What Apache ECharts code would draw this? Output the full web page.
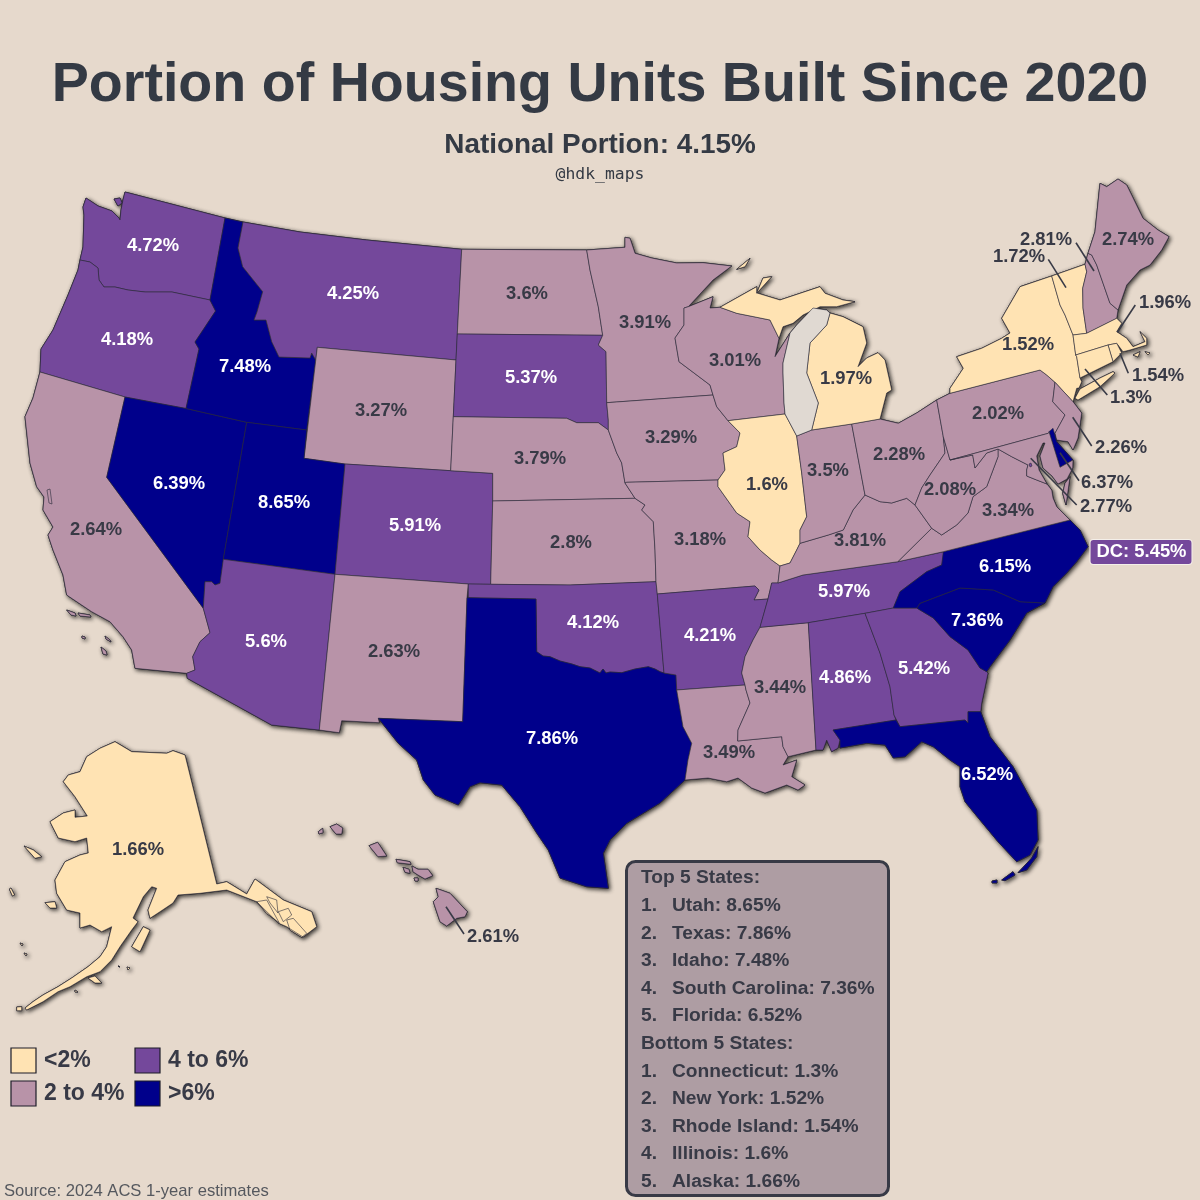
<!DOCTYPE html>
<html>
<head>
<meta charset="utf-8">
<title>Portion of Housing Units Built Since 2020</title>
<script src="https://cdn.jsdelivr.net/npm/echarts@6/dist/echarts.min.js"></script>
<style>
  html, body { margin: 0; padding: 0; background: #e6d9cc; }
  #chart { width: 1200px; height: 1200px; }
</style>
</head>
<body>
<div id="chart"></div>
<script>
// values
var stateNames = ['Washington','Oregon','California','Nevada','Idaho','Montana','Wyoming','Utah','Arizona','Colorado','New Mexico',
  'North Dakota','South Dakota','Nebraska','Kansas','Oklahoma','Texas','Minnesota','Iowa','Missouri','Arkansas','Louisiana',
  'Wisconsin','Illinois','Mississippi','Tennessee','Kentucky','Indiana','Ohio','Michigan','Alabama','Georgia','Florida',
  'South Carolina','North Carolina','Virginia','West Virginia','Pennsylvania','New York','Vermont','New Hampshire','Maine',
  'Massachusetts','Rhode Island','Connecticut','New Jersey','Delaware','Maryland','Alaska','Hawaii','District of Columbia'];
var stateValues = [4.72,4.18,2.64,6.39,7.48,4.25,3.27,8.65,5.6,5.91,2.63,
  3.6,5.37,3.79,2.8,4.12,7.86,3.91,3.29,3.18,4.21,3.49,
  3.01,1.6,3.44,5.97,3.81,3.5,2.28,1.97,4.86,5.42,6.52,
  7.36,6.15,3.34,2.08,2.02,1.52,1.72,2.81,2.74,
  1.96,1.54,1.3,2.26,6.37,2.77,1.66,2.61,5.45];

var topStates = ['Utah: 8.65%','Texas: 7.86%','Idaho: 7.48%','South Carolina: 7.36%','Florida: 6.52%'];
var bottomStates = ['Connecticut: 1.3%','New York: 1.52%','Rhode Island: 1.54%','Illinois: 1.6%','Alaska: 1.66%'];
var legendLabels = ['<2%','2 to 4%','4 to 6%','>6%'];
var classColors = ['#ffe3b3','#b893a8','#74489b','#00008b'];

// outlines, in picture pixels: flat x,y lists, one list per ring
var stateShapes = {
  'Washington': [[125,192,225,218,210,300,172,292,145,292,128,290,115,287,104,287,99,280,98,268,90,262,80,260,83,247,84,215,83,207,86,198,98,206,112,211,119,218,120,220,121,210,123,200],
    [114,199,120,198,122,203,118,206]],
  'Oregon': [[80,260,90,262,98,268,99,280,104,287,115,287,128,290,145,292,172,292,210,300,215.6,311,205,327,195,342,199,349,186,408.5,125,397,40,372,41,349,53,330,68,295,78,270]],
  'California': [[40,372,125,397,106.7,477.3,203.3,608.3,210,632.7,200,641.7,192.7,656.7,195,670,186.7,673.3,135,668.3,131.7,650,123,636.7,110,621.7,91.7,611.7,66.7,595,63,575,53,550,48,535,53,527,43,510,44,497,36.7,486.7,30,463,25,416.7,33,398],
    [66.7,610,75,613,76,616,71,615],[78,613,90,615,91,617,80,616],[82,636,85,637,85,639,82,638],[105,636,110,640,111,642,106,639],[101,647,106,651,107,655,103,654],[47,490,50,489,52,504,49,503]],
  'Nevada': [[125,397,186,408.5,246.7,422.3,223.3,559.3,220,583.3,215,585,211.7,581.7,205,581.7,203.3,608.3,106.7,477.3]],
  'Idaho': [[225,218,243,222,238,248,242.7,266.7,262.7,291.7,257,312,254,320,266,320,271.7,341.7,279,357,310,358,311.7,353,315.7,360,306.7,430,246.7,422.3,186,408.5,199,349,195,342,205,327,215.6,311,210,300]],
  'Montana': [[243,222,300,232,366.7,240,461.7,249.3,457.3,334,456,360,317.3,347.3,315.7,360,311.7,353,310,358,279,357,271.7,341.7,266,320,254,320,257,312,262.7,291.7,242.7,266.7,238,248]],
  'Wyoming': [[317.3,347.3,456,360,453.3,416.7,450.7,470.7,345,464,304,458.3]],
  'Utah': [[246.7,422.3,306.7,430,304,458.3,345,464,335,574.3,223.3,559.3]],
  'Arizona': [[223.3,559.3,335,574.3,319.3,730,271.7,725,187.3,678.3,186.7,673.3,195,670,192.7,656.7,200,641.7,210,632.7,203.3,608.3,205,581.7,211.7,581.7,215,585,220,583.3]],
  'Colorado': [[345,464,450.7,470.7,492.7,473.3,492.7,501,490.7,584.3,468.3,584,335,574.3]],
  'New Mexico': [[335,574.3,468.3,584,467,597.7,462.7,721.7,378.3,718.3,379.3,722.7,341.7,720.7,339.3,732.7,319.3,730]],
  'North Dakota': [[461.7,249.3,586.7,250,590,270,598.3,306.7,602.7,335.3,457.3,334]],
  'South Dakota': [[457.3,334,602.7,335.3,598.3,345,606,351.7,606.7,402.7,608.3,420,608.3,430,598.3,422.7,576.7,422.7,566.7,418.3,453.3,416.7,456,360]],
  'Nebraska': [[453.3,416.7,566.7,418.3,576.7,422.7,598.3,422.7,608.3,430,616.7,453,621.7,463,625,483,635,498.3,492.7,501,492.7,473.3,450.7,470.7]],
  'Kansas': [[492.7,501,635,498.3,645,505,641.7,510,653.3,521.7,655,550,656,581.7,570,585,490.7,584.3]],
  'Oklahoma': [[468.3,584,490.7,584.3,570,585,656,581.7,657.3,594,664,673,660,671.7,655,669,648.3,666.7,635,669,621.7,672.7,610,672,606,673,603,669,600,673,590,668,580,666.7,572,664,560,661,550,656.7,543,656,536.7,651.7,536,599,468.3,597.7]],
  'Texas': [[467,597.7,536,599,536.7,651.7,543,656,550,656.7,560,661,572,664,580,666.7,590,668,600,673,603,669,606,673,610,672,621.7,672.7,635,669,648.3,666.7,655,669,660,671.7,664,673,676,675,676.7,690,683,726.7,691.7,743.3,688,760,685,780,660,803,626.7,823.3,610,840,603.3,853.3,608.3,888.3,586.7,886.7,560,878,548.3,850,536.7,833,520,806.7,501.7,785,480,782.7,470,786.7,458.3,805,435,795,423.3,780,416.7,760,398.3,743.3,378.3,718.3,462.7,721.7]],
  'Minnesota': [[586.7,250,625,247.3,625,237.3,630,238.3,635,253.3,651.7,258,676.7,263,703,262.7,731.7,266,713,280,688.3,306.7,684,308,684,325,675,338,679,361.7,710,385,713,395,606.7,402.7,606,351.7,598.3,345,602.7,335.3,598.3,306.7,590,270]],
  'Iowa': [[606.7,402.7,713,395,716.7,406.7,728,420.7,740,433,736.7,446.7,723,453,725,470,718,480,626.7,482.3,625,483,621.7,463,616.7,453,608.3,430,608.3,420]],
  'Missouri': [[626.7,482.3,718,480,718,486.7,736.7,513,750,521.7,748,536.7,760,550,771.7,560,780,566,778,583,771.7,583,768,599,754,600,759,590,755,586,657.3,594,656,581.7,655,550,653.3,521.7,641.7,510,645,505,635,498.3,625,483]],
  'Arkansas': [[657.3,594,755,586,759,590,754,600,768,599,763,616.7,760,627.3,753,640,745,656.7,741.7,673,745,685,676.7,690,676,675,664,673]],
  'Louisiana': [[676.7,690,745,685,746,690,750,703,738,730,737.7,741,781.7,736.7,783,746.7,788,756.7,783,765,796.7,760,791.7,776.7,805,785,798,790,786.7,785,765,793,751.7,788,738,778,726.7,781.7,708,778,685,780,688,760,691.7,743.3,683,726.7]],
  'Wisconsin': [[688.3,306.7,713,296.7,710,308,720,307.3,736.7,313.3,756.7,317.3,770,320,779,338.3,775,356.7,790,333,783,363,783,373,784,403,785,414,728,420.7,716.7,406.7,713,395,710,385,679,361.7,675,338,684,325,684,308]],
  'Illinois': [[728,420.7,785,414,796.7,436,801.7,473,806.7,516.7,800,530,800,543.3,796.7,550,790,563,780,566,771.7,560,760,550,748,536.7,750,521.7,736.7,513,718,486.7,718,480,725,470,723,453,736.7,446.7,740,433]],
  'Mississippi': [[760,627.3,808.3,622.7,816,750,788,756.7,783,746.7,781.7,736.7,737.7,741,738,730,750,703,746,690,745,685,741.7,673,745,656.7,753,640]],
  'Tennessee': [[771.7,583,778,583,803,575,898,561.7,944,551.7,941.7,565,926.7,571.7,900,591.7,893.3,608,865,613.3,808.3,622.7,760,627.3,763,616.7,768,599]],
  'Kentucky': [[778,583,780,566,790,563,796.7,550,800,543.3,828.3,535,843.3,530,853,510,865,495,880,501.7,891.7,503,906.7,498.3,915,505,931.7,528.3,898,561.7,803,575]],
  'Indiana': [[796.7,436,811.7,430,851.7,424,865,495,853,510,843.3,530,828.3,535,800,543.3,800,530,806.7,516.7,801.7,473]],
  'Ohio': [[851.7,424,880,419,898.3,423.3,916.7,413,936.7,400,943.3,436.7,945,453,930,475,921.7,488,915,505,906.7,498.3,891.7,503,880,501.7,865,495]],
  'Michigan': [[811.7,430,851.7,424,880,419,886.7,393,891.7,390,885,360,878,352.7,866.7,358,858,366.7,866.7,343,863,326.7,843,316.7,830,313,826.7,325,810,343,806.7,373,818.3,403],
    [720,307.3,756.7,286.7,756.7,293.3,763,278,771.7,276.7,757,293,780,300,820,286.7,825,293.3,843,300,855,301.7,836.7,306.7,820,306.7,803,315,793,323.3,783,326.7,779,338.3,770,320,756.7,317.3,736.7,313.3],
    [736.7,269.3,750,258.3,745,266.7],[813,320,818,314,820,317,816,321]],
  'Alabama': [[808.3,622.7,865,613.3,880,653,890,686.7,894,715,896,720,833,730,840,740,838,748,831.7,751.7,826.7,740,823,750,816,750]],
  'Georgia': [[865,613.3,893.3,608,916.7,608,933.3,618,950,636.7,968,650,980,668,986.7,671.7,988,673,981.7,703,980.7,711.7,968,711.7,968,723,965,720,900,726.7,894,715,890,686.7,880,653]],
  'Florida': [[833,730,896,720,900,726.7,965,720,968,723,968,711.7,980.7,711.7,990,736.7,1013,766.7,1036.7,810,1038,840,1030,855,1016.7,861.7,998,841.7,980,820,965,801.7,960,786.7,960,766.7,950,760,933.3,746.7,921.7,741.7,905,756.7,893.3,758,885,745,866.7,743.3,840,748,840,740],
    [1001.7,880,1013,871.7,1015,875,1005,880.7],[1018,872.7,1031.7,858,1038,846.7,1036.7,856.7,1026.7,870],[992,881,997,880,997,883,992,883]],
  'South Carolina': [[916.7,608,920,603.3,960,588,993.3,590,1020,601.7,1045,603,1026.7,613,1010,640,990,666.7,986.7,671.7,980,668,968,650,950,636.7,933.3,618]],
  'North Carolina': [[943.3,551.7,1070,520,1080,530,1088,546.7,1076.7,561.7,1066.7,573,1053,586.7,1045,603,1020,601.7,993.3,590,960,588,920,603.3,916.7,608,893.3,608,900,591.7,926.7,571.7,941.7,565]],
  'Virginia': [[1070,520,943.3,551.7,898,561.7,931.7,528.3,941.7,535,956.7,525,968,513,973,496.7,986.7,486.7,998,456.7,998,449,1011.7,456.7,1028,465,1026.7,470,1026.7,476,1036.7,480,1047,484,1051.7,490,1053,498,1056.7,506.7],
    [1070,476.7,1066,505,1062.7,493.3,1065,483.3]],
  'West Virginia': [[943.3,436.7,950,460,972.7,455,975,468,986.7,453,998,449,998,456.7,986.7,486.7,973,496.7,968,513,956.7,525,941.7,535,931.7,528.3,915,505,921.7,488,930,475,945,453]],
  'Pennsylvania': [[936.7,400,950,393.3,1040,370,1046.7,375,1055,382.3,1052.7,401.7,1065,415,1055,433.3,1048.3,433.3,950,460,943.3,436.7]],
  'New York': [[950,393.3,950,388.3,963.3,368.3,956.7,356.7,981.7,348.3,1001.7,338.3,1010,333,1001.7,318.3,1020,286.7,1051.7,276,1060,305,1065,315,1073,335,1075.7,355,1076.7,356.7,1080,378,1081.7,381.7,1079,388,1076.7,388.3,1073,401.7,1055,382.3,1046.7,375,1040,370],
    [1075,398.3,1080,389,1100,378,1113,371.7,1115,373,1100,386.7,1078,400]],
  'Vermont': [[1051.7,276,1085,264.3,1086.7,271.7,1082.7,288.3,1083,308,1086.7,333.3,1073,335,1065,315,1060,305]],
  'New Hampshire': [[1085,264.3,1088,253.3,1091.7,255,1096.7,265,1110,303.3,1118,310,1116.7,318.3,1086.7,333.3,1083,308,1082.7,288.3,1086.7,271.7]],
  'Maine': [[1088,253.3,1095,231.7,1100,183.3,1106.7,186.7,1118,179,1126.7,185,1143,218.3,1158,230,1169,236.7,1161.7,250,1150,265,1140,270,1126.7,285,1118,310,1110,303.3,1096.7,265,1091.7,255]],
  'Massachusetts': [[1073,335,1086.7,333.3,1116.7,318.3,1121.7,323.3,1116.7,331.7,1126.7,338.3,1133,346.7,1145,341.7,1140,331.7,1146.7,338.3,1146.7,345,1130,350,1123,351.7,1116.7,343.3,1108,345,1075.7,355],
    [1133,355,1140,351.7,1138,357],[1145,351.7,1150,353,1148,355]],
  'Rhode Island': [[1108,345,1116.7,343.3,1121.7,353,1113,361.7]],
  'Connecticut': [[1075.7,355,1108,345,1113,361.7,1080,378,1076.7,356.7]],
  'New Jersey': [[1055,382.3,1073,401.7,1081.7,413,1078,438,1073,450,1068,441.7,1056.7,440,1055,433.3,1065,415,1052.7,401.7]],
  'Delaware': [[1049,431.7,1053,428.3,1056.7,441.7,1073,460,1060,467.3]],
  'Maryland': [[950,460,1048.3,433.3,1049,431.7,1060,467.3,1073,460,1072.7,468,1067,479,1058,484,1052,476,1043,468,1040,456,1045,443,1043,443,1036.7,456,1039,470,1047,484,1036.7,480,1026.7,476,1026.7,470,1028,465,1011.7,456.7,998,449,986.7,453,975,468,972.7,455]],
  'District of Columbia': [[1029,464,1031,463,1032,466,1030,467]],
  'Alaska': [[115,741.7,131.7,751.7,166.7,753.3,173,750.7,185,755,216.7,884,226.7,881.7,246.7,894,255,879,283.3,900,311.7,911.7,316.7,926.7,303,937,286.7,926.7,278.3,923,256.7,901.7,226.7,890,200,893.3,178,895,173,903,160,911.7,150,918.3,148,910,156.7,888.3,151.7,886.7,143.3,896.7,133,918,138,921.7,131.7,930,120,946.7,111.7,960,100,971.7,86.7,976.7,70,986.7,58,991.7,43,1001.7,26.7,1010,25,1008,33,1001.7,43,995,58,986.7,71.7,978,88,966.7,100,956.7,106.7,946.7,111.7,926.7,101.7,931.7,90,925,80,928,80,913,66.7,910,56.7,893.3,55,880,65,861.7,80,855,88.3,853,86.7,838,75,841.7,58.3,838,50,821.7,63.3,813,75,810,75,817.3,87.3,816,75,796.7,63.3,781.7,68.3,775,80,771.7,86.7,756.7,100,748.3],
    [143.3,926.7,150,930,140,951.7,131.7,946.7],[24,846,33.3,850,41.7,856.7,35,858.3],[45,902.7,55,901.7,56.7,908,50,908],[9.3,889,11,888,14.5,895,12.5,896],
    [256.7,901.7,266.7,900,279.3,923,266.7,913.3],[266.7,896.7,276.7,900,278,913,270,903],[278.3,911.7,288.3,908.3,291.7,915,283.3,921.7],[286.7,920,293.3,918.3,306.7,933.3,301.7,937.3,290,930],
    [88,978,95,976,101.7,983,95,983],[16.7,1007,21.7,1006.7,21.7,1010.7,16.7,1010.7],[75,990,78,992,77,993,75,992],[20,943,23,944,22,946],[24,953,27,954,26,956],[118,966,120,967,119,968],[127,967,130,968,128,970]],
  'Hawaii': [[330,826.7,336.7,824,342.7,828,341.7,834,336,834],[318.3,831.7,322.7,828.3,323,832.7,319,834],[369,845.7,377.7,842.3,386.7,856,378,856.7],[396,859.3,410,861.7,411,864.3,397.3,862.7],[403,867.3,409,869.3,410,873.3,405,872.3],
    [412,866,418,869.3,428,869.3,432.7,875.7,425,879,418,875,413,871.7],[414,878,418,878,418,881,415,881],[436,888.3,450,893.3,467.3,911.7,465,916.7,456.7,918.3,446.7,926,440,921.7,433.3,901.7,438.3,896.7]],
  'Lake Michigan': [[785,414,784,403,783,373,783,363,790,333,796.7,325,813,308,826.7,310,830,313,826.7,325,810,343,806.7,373,818.3,403,811.7,430,796.7,436]]
};

// where each value label sits, in picture pixels
var labelSpots = {
  'Washington':[153,246],'Oregon':[127,340],'California':[96,530],'Nevada':[179,484],'Idaho':[245,367],'Montana':[353,294],
  'Wyoming':[381,411],'Utah':[284,503],'Arizona':[266,642],'Colorado':[415,526],'New Mexico':[394,652],'North Dakota':[527,294],
  'South Dakota':[531,378],'Nebraska':[540,459],'Kansas':[571,543],'Oklahoma':[593,623],'Texas':[552,739],'Minnesota':[645,323],
  'Iowa':[671,438],'Missouri':[700,540],'Arkansas':[710,636],'Louisiana':[729,753],'Wisconsin':[735,361],'Illinois':[767,485],
  'Mississippi':[780,688],'Tennessee':[844,592],'Kentucky':[860,541],'Indiana':[828,471],'Ohio':[899,455],'Michigan':[846,379],
  'Alabama':[845,678],'Georgia':[924,669],'Florida':[987,775],'South Carolina':[977,621],'North Carolina':[1005,567],'Virginia':[1008,511],
  'West Virginia':[950,490],'Pennsylvania':[998,414],'New York':[1028,345],'Vermont':[1019,257],'New Hampshire':[1046,240],'Maine':[1128,240],
  'Massachusetts':[1165,303],'Rhode Island':[1158,376],'Connecticut':[1131,398],'New Jersey':[1121,448],'Delaware':[1107,483],'Maryland':[1106,507],
  'Alaska':[138,850],'Hawaii':[493,937],'District of Columbia':[1141,552],'Lake Michigan':[800,380]
};

// leader lines from small states to their labels
var leaderLines = [
  [446,906.7,464,934],[1076,242.7,1094,271],[1048.3,259.3,1066,287.7],[1135.3,305,1117.3,332.3],[1128.3,373.3,1120,353.3],
  [1107.3,395,1085,369],[1091.7,446,1072.7,417.3],[1079,480.7,1060,452.7],[1076.7,505,1030.7,458.3]
];

var inkColor = '#383a46';

function ringToCoords(ring) {
  var out = [];
  for (var i = 0; i < ring.length; i += 2) {
    out.push([ring[i], -ring[i + 1]]);
  }
  out.push(out[0]);
  return [out];
}

var features = Object.keys(stateShapes).map(function (name) {
  var spot = labelSpots[name];
  return {
    type: 'Feature',
    properties: { name: name, cp: [spot[0], -spot[1]] },
    geometry: { type: 'MultiPolygon', coordinates: stateShapes[name].map(ringToCoords) }
  };
});
echarts.registerMap('usa', { type: 'FeatureCollection', features: features });

var mapFrame = {
  map: 'usa',
  roam: false,
  aspectScale: 1,
  layoutCenter: ['50%', '50%'],
  layoutSize: 1200,
  boundingCoords: [[0, 0], [1200, -1200]]
};

var mapData = stateNames.map(function (name, i) {
  var item = {
    name: name,
    value: stateValues[i],
    // Delaware's label sits out on the page, so it stays dark
    label: { color: stateValues[i] >= 4 && name !== 'Delaware' ? '#ffffff' : inkColor }
  };
  if (name === 'District of Columbia') {
    item.label = {
      color: '#ffffff',
      backgroundColor: classColors[2],
      borderColor: '#f4efe9',
      borderWidth: 1,
      borderRadius: 3,
      padding: [3, 5, 3, 6],
      formatter: 'DC: {c}%'
    };
  }
  return item;
});

var panelFont = 'bold 19.2px "Liberation Sans"';
var graphics = [{
  type: 'rect',
  shape: { x: 626.5, y: 861.5, width: 262, height: 334, r: 9 },
  style: { fill: '#ae9da3', stroke: inkColor, lineWidth: 3 }
}];
function panelText(x, rowIndex, text) {
  graphics.push({
    type: 'text', x: x, y: 878 + rowIndex * 27.62,
    style: { text: text, font: panelFont, fill: inkColor, verticalAlign: 'middle' }
  });
}
function panelBlock(startRow, heading, rows) {
  panelText(641, startRow, heading);
  rows.forEach(function (row, i) {
    panelText(641, startRow + i + 1, (i + 1) + '.');
    panelText(672, startRow + i + 1, row);
  });
}
panelBlock(0, 'Top 5 States:', topStates);
panelBlock(6, 'Bottom 5 States:', bottomStates);

// legend, two columns of two
legendLabels.forEach(function (txt, i) {
  var bx = i < 2 ? 11 : 135;
  var by = i % 2 === 0 ? 1048 : 1081;
  graphics.push({
    type: 'rect',
    shape: { x: bx, y: by, width: 25, height: 25 },
    style: { fill: classColors[i], stroke: '#1d1d28', lineWidth: 1.2 }
  });
  graphics.push({
    type: 'text', x: bx + 33, y: by + 13,
    style: { text: txt, font: 'bold 23px "Liberation Sans"', fill: inkColor, verticalAlign: 'middle' }
  });
});

var chart = echarts.init(document.getElementById('chart'));
chart.setOption({
  backgroundColor: '#e6d9cc',
  animation: false,
  title: [
    { text: 'Portion of Housing Units Built Since 2020', left: 'center', top: 53,
      textStyle: { fontFamily: 'Liberation Sans', fontWeight: 'bold', fontSize: 55.6, color: '#343a44' } },
    { text: 'National Portion: 4.15%', left: 'center', top: 126,
      textStyle: { fontFamily: 'Liberation Sans', fontWeight: 'bold', fontSize: 27.9, color: '#343a44' } },
    { text: '@hdk_maps', left: 'center', top: 162,
      textStyle: { fontFamily: 'DejaVu Sans Mono', fontWeight: 'normal', fontSize: 16.4, color: '#343a44' } },
    { text: 'Source: 2024 ACS 1-year estimates', left: -1, top: 1178,
      textStyle: { fontFamily: 'Liberation Sans', fontWeight: 'normal', fontSize: 16.6, color: '#55585e' } }
  ],
  // silhouette underneath, only there to give the coast its shadow
  geo: Object.assign({}, mapFrame, {
    silent: true,
    z: 0,
    itemStyle: {
      areaColor: '#b893a8',
      borderColor: '#15151c',
      borderWidth: 0.9,
      shadowColor: 'rgba(0,0,0,0.8)',
      shadowBlur: 4,
      shadowOffsetX: 1.5,
      shadowOffsetY: 1.5
    }
  }),
  visualMap: {
    type: 'piecewise',
    show: false,
    seriesIndex: 0,
    pieces: [
      { lt: 2, color: classColors[0] },
      { gte: 2, lt: 4, color: classColors[1] },
      { gte: 4, lt: 6, color: classColors[2] },
      { gte: 6, color: classColors[3] }
    ],
    outOfRange: { color: '#e0d9d2' }
  },
  graphic: graphics,
  series: [
    Object.assign({}, mapFrame, {
      type: 'map',
      z: 2,
      silent: true,
      selectedMode: false,
      itemStyle: { areaColor: '#e0d9d2', borderColor: '#2b2b3a', borderWidth: 0.6 },
      label: {
        show: true,
        fontFamily: 'Liberation Sans',
        fontWeight: 'bold',
        fontSize: 18.4,
        color: inkColor,
        formatter: function (p) { return isNaN(p.value) ? '' : p.value + '%'; }
      },
      data: mapData
    }),
    {
      type: 'lines',
      coordinateSystem: 'geo',
      geoIndex: 0,
      z: 5,
      silent: true,
      lineStyle: { color: inkColor, width: 1.6, opacity: 1, curveness: 0 },
      data: leaderLines.map(function (l) {
        return { coords: [[l[0], -l[1]], [l[2], -l[3]]] };
      })
    }
  ]
});
</script>
</body>
</html>
